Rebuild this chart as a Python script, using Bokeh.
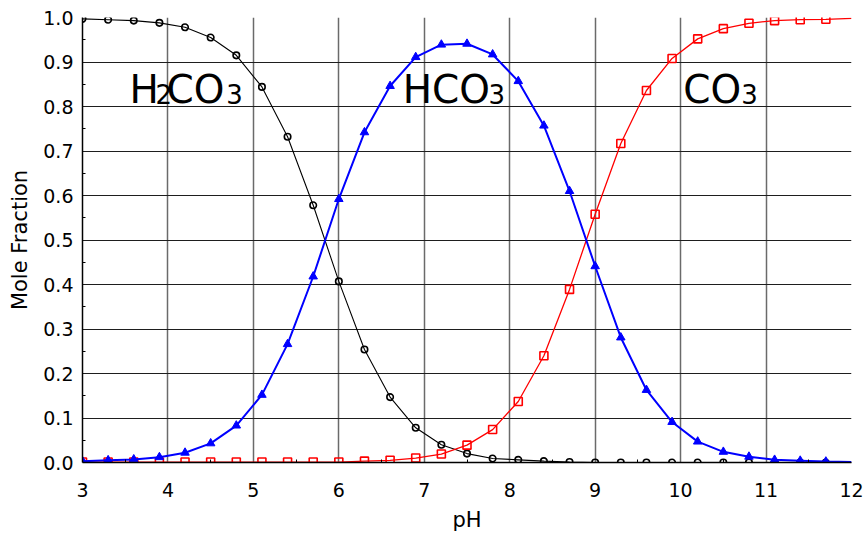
from bokeh.plotting import figure
from bokeh.models import Range1d, FixedTicker, NumeralTickFormatter
from bokeh.core.properties import value
from bokeh.embed import file_html
from bokeh.resources import INLINE

# ---- data ----
ph = [3.0, 3.3, 3.6, 3.9, 4.2, 4.5, 4.8, 5.1, 5.4, 5.7, 6.0, 6.3, 6.6, 6.9, 7.2, 7.5,
      7.8, 8.1, 8.4, 8.7, 9.0, 9.3, 9.6, 9.9, 10.2, 10.5, 10.8, 11.1, 11.4, 11.7, 12.0]

h2co3 = [0.997, 0.995, 0.993, 0.988, 0.978, 0.955, 0.915, 0.844, 0.732, 0.578, 0.407,
         0.254, 0.147, 0.078, 0.040, 0.020, 0.009, 0.006, 0.003, 0.001, 0.000, 0.000,
         0.000, 0.000, 0.000, 0.000, 0.000, 0.000, 0.000, 0.000, 0.000]

hco3 = [0.003, 0.005, 0.007, 0.012, 0.022, 0.043, 0.083, 0.152, 0.266, 0.418, 0.592,
        0.742, 0.846, 0.911, 0.939, 0.941, 0.917, 0.857, 0.757, 0.610, 0.441, 0.281,
        0.163, 0.091, 0.047, 0.024, 0.013, 0.006, 0.004, 0.002, 0.001]

co3 = [0.001, 0.001, 0.001, 0.001, 0.001, 0.001, 0.001, 0.001, 0.001, 0.001, 0.001,
       0.003, 0.005, 0.010, 0.019, 0.039, 0.074, 0.137, 0.240, 0.389, 0.558, 0.717,
       0.836, 0.908, 0.952, 0.975, 0.987, 0.993, 0.995, 0.996, 0.998]

x_ticks = [3, 4, 5, 6, 7, 8, 9, 10, 11, 12]
x_minor = [3.5, 4.5, 5.5, 6.5, 7.5, 8.5, 9.5, 10.5, 11.5]
y_ticks = [0.0, 0.1, 0.2, 0.3, 0.4, 0.5, 0.6, 0.7, 0.8, 0.9, 1.0]
y_minor = [0.05, 0.15, 0.25, 0.35, 0.45, 0.55, 0.65, 0.75, 0.85, 0.95]

# species labels: main part and subscript part
main_text = ["H", "CO", "HCO", "CO"]
main_x = [3.549, 3.983, 6.748, 10.032]
main_y = [0.8386, 0.8386, 0.8386, 0.8386]
sub_text = ["2", "3", "3", "3"]
sub_x = [3.855, 4.682, 7.752, 10.710]
sub_y = [0.8275, 0.8275, 0.8275, 0.8275]

FONT = "DejaVu Sans"

p = figure(width=866, height=534, output_backend="svg", toolbar_location=None,
           x_range=Range1d(3, 12), y_range=Range1d(0, 1),
           min_border_left=82, min_border_right=15, min_border_top=17, min_border_bottom=69)
p.outline_line_color = None
p.background_fill_color = "white"
p.border_fill_color = "white"

# grid
p.xgrid.ticker = FixedTicker(ticks=x_ticks)
p.ygrid.ticker = FixedTicker(ticks=y_ticks)
p.xgrid.grid_line_color = "#6a6a6a"
p.xgrid.grid_line_width = 1.5
p.ygrid.grid_line_color = "#1e1e1e"
p.ygrid.grid_line_width = 1.2

# axes
p.xaxis.ticker = FixedTicker(ticks=x_ticks, minor_ticks=x_minor)
p.yaxis.ticker = FixedTicker(ticks=y_ticks, minor_ticks=y_minor)
p.yaxis.formatter = NumeralTickFormatter(format="0.0")
for ax in (p.xaxis, p.yaxis):
    ax.axis_line_color = "black"
    ax.axis_line_width = 1.5
    ax.major_tick_in = 0
    ax.major_tick_out = 0
    ax.minor_tick_in = 3
    ax.minor_tick_out = 0
    ax.minor_tick_line_color = "black"
    ax.major_label_text_font = FONT
    ax.major_label_text_font_size = "19px"
    ax.major_label_text_color = "black"
    ax.axis_label_text_font = FONT
    ax.axis_label_text_font_size = "21px"
    ax.axis_label_text_font_style = "normal"
    ax.axis_label_text_color = "black"
p.xaxis.major_label_standoff = 20
p.yaxis.major_label_standoff = 9
p.xaxis.axis_label = "pH"
p.yaxis.axis_label = "Mole Fraction"
p.xaxis.axis_label_standoff = 8
p.yaxis.axis_label_standoff = 8

# series
n = len(ph) - 1  # markers on all but the last line point
p.line(ph, h2co3, line_color="black", line_width=1.1)
p.scatter(ph[:n], h2co3[:n], marker="circle", size=6.5, fill_color=None,
          line_color="black", line_width=1.6)

p.line(ph, co3, line_color="red", line_width=1.3)
p.scatter(ph[:n], co3[:n], marker="square", size=8, fill_color=None,
          line_color="red", line_width=1.6)

p.line(ph, hco3, line_color="blue", line_width=2)
p.scatter(ph[:n], hco3[:n], marker="triangle", size=8.5, fill_color="blue",
          line_color="blue", line_width=1)

# species labels
p.text(x=main_x, y=main_y, text=main_text, text_font=value(FONT),
       text_font_size="39px", text_color="black", text_baseline="alphabetic",
       text_align="left")
p.text(x=sub_x, y=sub_y, text=sub_text, text_font=value(FONT),
       text_font_size="26px", text_color="black", text_baseline="alphabetic",
       text_align="left")

open("out.html", "w").write(file_html(p, INLINE))
